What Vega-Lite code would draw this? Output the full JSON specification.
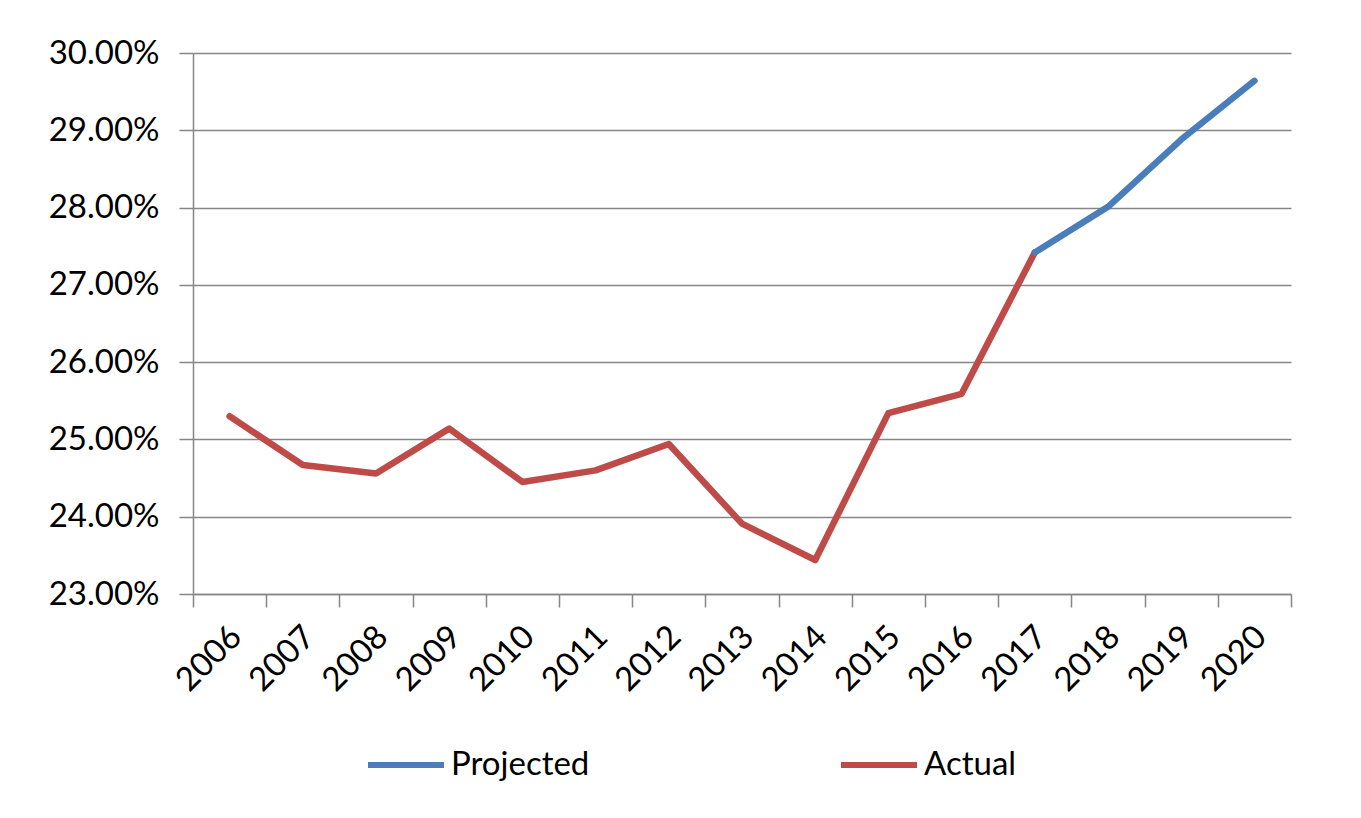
{
  "$schema": "https://vega.github.io/schema/vega-lite/v6.json",
  "width": 1098,
  "height": 541,
  "autosize": {"type": "none"},
  "padding": {"left": 193, "top": 53, "right": 70, "bottom": 224},
  "background": "white",
  "config": {
    "view": {"stroke": null},
    "font": "Lato"
  },
  "data": {
    "values": [
      {"year": "2006", "series": "Actual", "value": 0.2530},
      {"year": "2007", "series": "Actual", "value": 0.2467},
      {"year": "2008", "series": "Actual", "value": 0.2456},
      {"year": "2009", "series": "Actual", "value": 0.2514},
      {"year": "2010", "series": "Actual", "value": 0.2445},
      {"year": "2011", "series": "Actual", "value": 0.2460},
      {"year": "2012", "series": "Actual", "value": 0.2494},
      {"year": "2013", "series": "Actual", "value": 0.2391},
      {"year": "2014", "series": "Actual", "value": 0.2344},
      {"year": "2015", "series": "Actual", "value": 0.2534},
      {"year": "2016", "series": "Actual", "value": 0.2559},
      {"year": "2017", "series": "Actual", "value": 0.2742},
      {"year": "2017", "series": "Projected", "value": 0.2742},
      {"year": "2018", "series": "Projected", "value": 0.2801},
      {"year": "2019", "series": "Projected", "value": 0.2888},
      {"year": "2020", "series": "Projected", "value": 0.2964}
    ]
  },
  "mark": {"type": "line", "strokeWidth": 6.5, "strokeCap": "round", "strokeJoin": "round"},
  "encoding": {
    "x": {
      "field": "year",
      "type": "ordinal",
      "scale": {"type": "band", "paddingInner": 0, "paddingOuter": 0},
      "axis": {
        "title": null,
        "labelAngle": -45,
        "labelFontSize": 33,
        "labelColor": "#000000",
        "labelPadding": 13,
        "labelOffset": -5,
        "tickBand": "extent",
        "tickSize": 13,
        "tickColor": "#868686",
        "tickWidth": 1.5,
        "domainColor": "#868686",
        "domainWidth": 1.5,
        "grid": false
      }
    },
    "y": {
      "field": "value",
      "type": "quantitative",
      "scale": {"domain": [0.23, 0.30], "nice": false, "zero": false},
      "axis": {
        "title": null,
        "values": [0.23, 0.24, 0.25, 0.26, 0.27, 0.28, 0.29, 0.30],
        "format": ".2%",
        "labelFontSize": 33,
        "labelColor": "#000000",
        "labelPadding": 20,
        "tickSize": 14,
        "tickColor": "#868686",
        "tickWidth": 1.5,
        "domainColor": "#868686",
        "domainWidth": 1.5,
        "grid": true,
        "gridColor": "#868686",
        "gridWidth": 1.5
      }
    },
    "color": {
      "field": "series",
      "type": "nominal",
      "scale": {"domain": ["Projected", "Actual"], "range": ["#4A7EBB", "#BE4B48"]},
      "legend": {
        "title": null,
        "orient": "none",
        "legendX": 172,
        "legendY": 671,
        "direction": "horizontal",
        "symbolType": "stroke",
        "symbolSize": 5776,
        "symbolStrokeWidth": 6,
        "labelFontSize": 33,
        "labelColor": "#000000",
        "labelOffset": 4,
        "columnPadding": 239
      }
    }
  }
}
